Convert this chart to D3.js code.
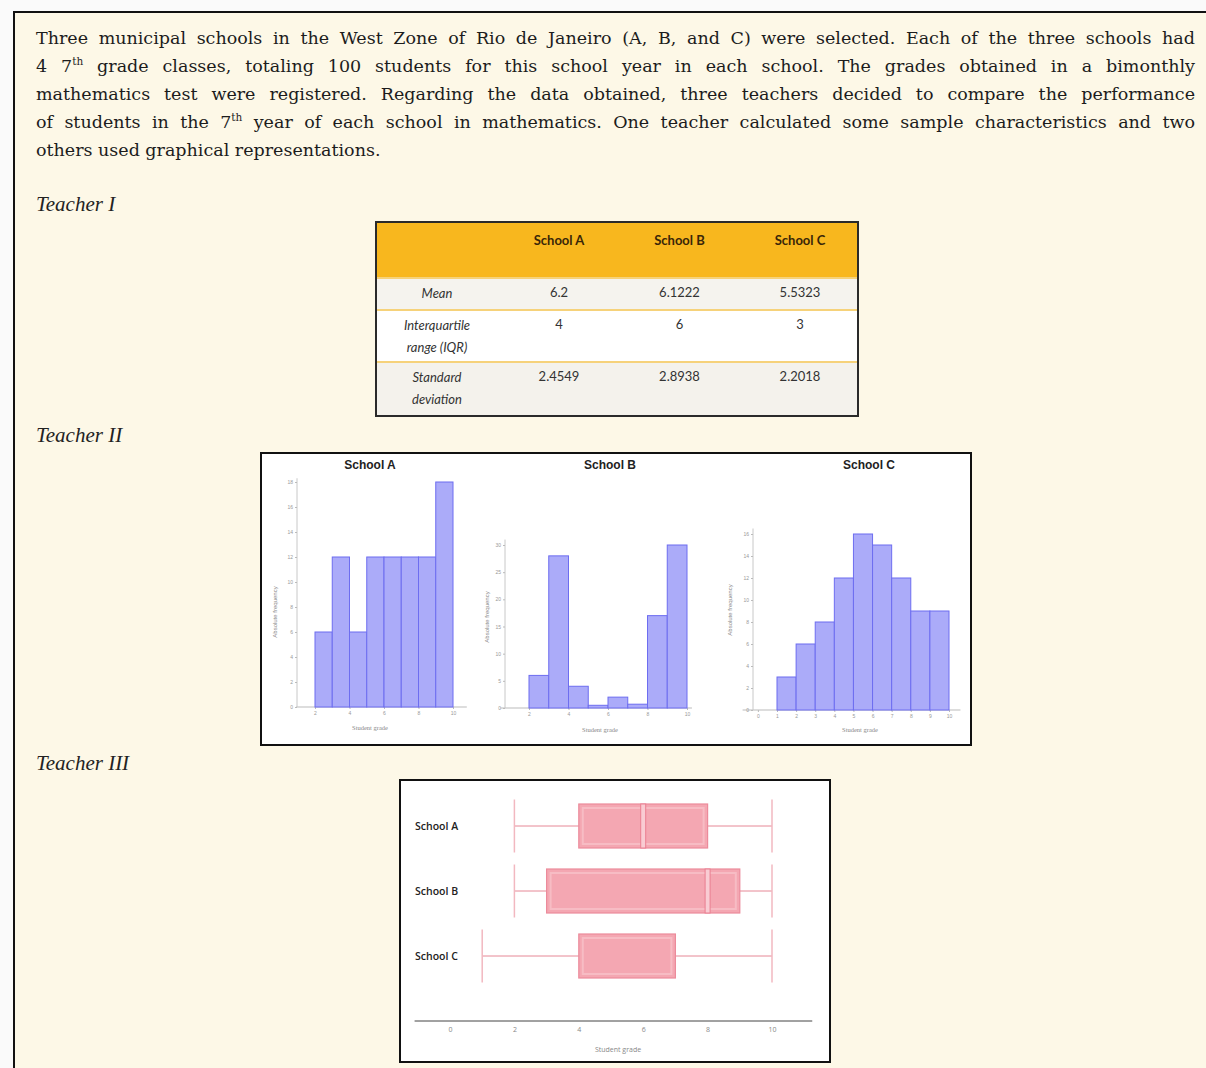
<!DOCTYPE html>
<html>
<head>
<meta charset="utf-8">
<script src="https://cdn.jsdelivr.net/npm/d3@7"></script>
<style>
  body { margin: 0; background: #fff; }
  svg { display: block; }
</style>
</head>
<body>
<div id="chart"></div>
<script>
var width = 1206
var height = 1068

// paragraph, one entry per printed line (^ marks a superscript)
var paragraphLines = [
  'Three municipal schools in the West Zone of Rio de Janeiro (A, B, and C) were selected. Each of the three schools had',
  '4 7^th grade classes, totaling 100 students for this school year in each school. The grades obtained in a bimonthly',
  'mathematics test were registered. Regarding the data obtained, three teachers decided to compare the performance',
  'of students in the 7^th year of each school in mathematics. One teacher calculated some sample characteristics and two',
  'others used graphical representations.'
]
var teacherLabels = ['Teacher I', 'Teacher II', 'Teacher III']

// Teacher I table
var schools = ['School A', 'School B', 'School C']
var rowLabels = [['Mean'], ['Interquartile', 'range (IQR)'], ['Standard', 'deviation']]
var meanValues = ['6.2', '6.1222', '5.5323']
var iqrValues = ['4', '6', '3']
var sdValues = ['2.4549', '2.8938', '2.2018']

// Teacher II histograms
var edgesA = [2, 3, 4, 5, 6, 7, 8, 9, 10]
var countsA = [6, 12, 6, 12, 12, 12, 12, 18]
var edgesB = [2, 3, 4, 5, 6, 7, 8, 9, 10]
var countsB = [6, 28, 4, 0.5, 2, 0.7, 17, 30]
var edgesC = [1, 2, 3, 4, 5, 6, 7, 8, 9, 10]
var countsC = [3, 6, 8, 12, 16, 15, 12, 9, 9]
var yTicksA = [0, 2, 4, 6, 8, 10, 12, 14, 16, 18]
var yTicksB = [0, 5, 10, 15, 20, 25, 30]
var yTicksC = [0, 2, 4, 6, 8, 10, 12, 14, 16]
var xTicksA = [2, 4, 6, 8, 10]
var xTicksB = [2, 4, 6, 8, 10]
var xTicksC = [0, 1, 2, 3, 4, 5, 6, 7, 8, 9, 10]

// Teacher III box plots
var boxMin = [2, 2, 1]
var boxQ1 = [4, 3, 4]
var boxMedian = [6, 8, 4]
var boxQ3 = [8, 9, 7]
var boxMax = [10, 10, 10]
var boxTicks = [0, 2, 4, 6, 8, 10]

var svg = d3
  .select('#chart')
  .append('svg')
  .attr('width', width)
  .attr('height', height)

// page background with the frame
svg.append('rect').attr('width', width).attr('height', height).attr('fill', '#fafafa')
svg
  .append('rect')
  .attr('x', 14)
  .attr('y', 12)
  .attr('width', width)
  .attr('height', height)
  .attr('fill', '#fdf8e7')
  .attr('stroke', '#111')
  .attr('stroke-width', 2)

// ---- justified paragraph
var textLeft = 36
var textRight = 1195
var para = svg
  .append('g')
  .attr('font-family', 'DejaVu Serif')
  .attr('font-size', 17.5)
  .attr('fill', '#1c1c1c')

paragraphLines.forEach(function(line, li) {
  var y = 44 + li * 28
  var words = line.split(' ')
  var nodes = words.map(function(w) {
    var t = para.append('text').attr('y', y)
    var parts = w.split('^')
    t.append('tspan').text(parts[0])
    if (parts[1]) {
      t.append('tspan').attr('dy', -7).attr('font-size', 10.5).text(parts[1])
    }
    return t
  })
  var widths = nodes.map(n => n.node().getComputedTextLength())
  var last = li === paragraphLines.length - 1
  var gap = last ? 5.5 : (textRight - textLeft - d3.sum(widths)) / (words.length - 1)
  var x = textLeft
  nodes.forEach(function(n, i) {
    n.attr('x', x)
    x += widths[i] + gap
  })
})

svg
  .selectAll('.teacher')
  .data(teacherLabels)
  .enter()
  .append('text')
  .attr('class', 'teacher')
  .attr('x', 36)
  .attr('y', (d, i) => [211, 442, 770][i])
  .attr('font-family', 'Liberation Serif')
  .attr('font-style', 'italic')
  .attr('font-size', 21)
  .attr('fill', '#222')
  .text(d => d)

// ---- Teacher I: table
var table = svg.append('g').attr('font-family', 'Lato')
var colX = d3.scalePoint().domain(schools).range([559, 800])
var tableRows = [meanValues, iqrValues, sdValues]
var rowTop = [278, 310, 362, 416]
var rowFill = ['#f5f3ee', '#ffffff', '#f4f2ec']

table
  .append('rect')
  .attr('x', 376)
  .attr('y', 222)
  .attr('width', 482)
  .attr('height', 56)
  .attr('fill', '#f8b71e')

table
  .selectAll('.row-bg')
  .data(tableRows)
  .enter()
  .append('rect')
  .attr('x', 376)
  .attr('y', (d, i) => rowTop[i])
  .attr('width', 482)
  .attr('height', (d, i) => rowTop[i + 1] - rowTop[i])
  .attr('fill', (d, i) => rowFill[i])

table
  .selectAll('.row-sep')
  .data(rowTop.slice(0, 3))
  .enter()
  .append('line')
  .attr('x1', 376)
  .attr('x2', 858)
  .attr('y1', d => d)
  .attr('y2', d => d)
  .attr('stroke', '#f6d27a')
  .attr('stroke-width', 2)

table
  .selectAll('.col-head')
  .data(schools)
  .enter()
  .append('text')
  .attr('x', d => colX(d))
  .attr('y', 245)
  .attr('text-anchor', 'middle')
  .attr('font-weight', 700)
  .attr('font-size', 13)
  .attr('fill', '#3a2608')
  .text(d => d)

rowLabels.forEach(function(lines, r) {
  lines.forEach(function(l, k) {
    table
      .append('text')
      .attr('x', 437)
      .attr('y', rowTop[r] + 20 + k * 22)
      .attr('text-anchor', 'middle')
      .attr('font-style', 'italic')
      .attr('font-size', 13)
      .attr('fill', '#333')
      .text(l)
  })
  table
    .selectAll('.val' + r)
    .data(tableRows[r])
    .enter()
    .append('text')
    .attr('x', (d, i) => colX(schools[i]))
    .attr('y', rowTop[r] + 19)
    .attr('text-anchor', 'middle')
    .attr('font-size', 13)
    .attr('fill', '#333')
    .text(d => d)
})

table
  .append('rect')
  .attr('x', 376)
  .attr('y', 222)
  .attr('width', 482)
  .attr('height', 194)
  .attr('fill', 'none')
  .attr('stroke', '#2a2a2a')
  .attr('stroke-width', 2)

// ---- Teacher II: histograms
svg
  .append('rect')
  .attr('x', 261)
  .attr('y', 453)
  .attr('width', 710)
  .attr('height', 292)
  .attr('fill', '#fff')
  .attr('stroke', '#111')
  .attr('stroke-width', 2)

var panels = [
  { title: 'School A', edges: edgesA, counts: countsA, yTicks: yTicksA, xTicks: xTicksA,
    xr: [315, 453], yr: [707, 482], titleX: 370, axisX: [0.9, 10.8], axisY: 18.3,
    yAxisAt: 297, yLabelX: 277, yLabelY: 612, xLabelX: 370, xLabelY: 730 },
  { title: 'School B', edges: edgesB, counts: countsB, yTicks: yTicksB, xTicks: xTicksB,
    xr: [529, 687], yr: [708, 545], titleX: 610, axisX: [0.55, 10.25], axisY: 31,
    yAxisAt: 505, yLabelX: 489, yLabelY: 617, xLabelX: 600, xLabelY: 732 },
  { title: 'School C', edges: edgesC, counts: countsC, yTicks: yTicksC, xTicks: xTicksC,
    xr: [777, 949], yr: [710, 534], titleX: 869, axisX: [-0.8, 10.6], axisY: 16.5,
    yAxisAt: 753, yLabelX: 732, yLabelY: 610, xLabelX: 860, xLabelY: 732 }
]

panels.forEach(function(p) {
  var g = svg.append('g')
  var x = d3.scaleLinear().domain([p.edges[0], p.edges[p.edges.length - 1]]).range(p.xr)
  var y = d3.scaleLinear().domain([0, d3.max(p.yTicks)]).range(p.yr)
  var x0 = x.invert(p.yAxisAt)

  g.append('text')
    .attr('x', p.titleX)
    .attr('y', 469)
    .attr('text-anchor', 'middle')
    .attr('font-family', 'Liberation Sans')
    .attr('font-weight', 700)
    .attr('font-size', 12)
    .attr('fill', '#222')
    .text(p.title)

  // axes lines
  g.append('line')
    .attr('x1', x(p.axisX[0]))
    .attr('x2', x(p.axisX[1]))
    .attr('y1', y(0))
    .attr('y2', y(0))
    .attr('stroke', '#bbb')
  g.append('line')
    .attr('x1', x(x0))
    .attr('x2', x(x0))
    .attr('y1', y(0))
    .attr('y2', y(p.axisY))
    .attr('stroke', '#c8c8c8')

  var yAxis = g
    .append('g')
    .attr('transform', 'translate(' + x(x0) + ',0)')
    .call(d3.axisLeft(y).tickValues(p.yTicks).tickSize(2).tickPadding(2))
  var xAxis = g
    .append('g')
    .attr('transform', 'translate(0,' + y(0) + ')')
    .call(d3.axisBottom(x).tickValues(p.xTicks).tickSize(2).tickPadding(2))
  ;[yAxis, xAxis].forEach(function(a) {
    a.select('.domain').remove()
    a.selectAll('line').attr('stroke', '#bbb')
    a.selectAll('text').attr('font-size', 5).attr('fill', '#999').attr('font-family', 'Liberation Sans')
  })

  g.selectAll('.bar')
    .data(p.counts)
    .enter()
    .append('rect')
    .attr('x', (d, i) => x(p.edges[i]))
    .attr('width', (d, i) => x(p.edges[i + 1]) - x(p.edges[i]))
    .attr('y', d => y(d))
    .attr('height', d => y(0) - y(d))
    .attr('fill', '#ababf9')
    .attr('stroke', '#6d6df0')
    .attr('stroke-width', 1)

  g.append('text')
    .attr('transform', 'translate(' + p.yLabelX + ',' + p.yLabelY + ') rotate(-90)')
    .attr('text-anchor', 'middle')
    .attr('font-family', 'Liberation Sans')
    .attr('font-size', 6)
    .attr('fill', '#888')
    .text('Absolute frequency')

  g.append('text')
    .attr('x', p.xLabelX)
    .attr('y', p.xLabelY)
    .attr('text-anchor', 'middle')
    .attr('font-family', 'Liberation Serif')
    .attr('font-size', 6.5)
    .attr('fill', '#888')
    .text('Student grade')
})

// ---- Teacher III: box plots
svg
  .append('rect')
  .attr('x', 400)
  .attr('y', 780)
  .attr('width', 430)
  .attr('height', 282)
  .attr('fill', '#fff')
  .attr('stroke', '#111')
  .attr('stroke-width', 2)

var bx = d3.scaleLinear().domain([0, 10]).range([450, 772])
var by = d3.scalePoint().domain(schools).range([826, 956])
var boxH = 44
var capH = 53
var boxes = svg.append('g')

boxes
  .append('line')
  .attr('x1', bx(-1.1))
  .attr('x2', bx(11.25))
  .attr('y1', 1021)
  .attr('y2', 1021)
  .attr('stroke', '#444')
  .attr('stroke-width', 1)

var bAxis = boxes
  .append('g')
  .attr('transform', 'translate(0,1021)')
  .call(d3.axisBottom(bx).tickValues(boxTicks).tickSize(0).tickPadding(6))
bAxis.select('.domain').remove()
bAxis.selectAll('text').attr('font-size', 7).attr('fill', '#888').attr('font-family', 'Open Sans')

boxes
  .append('text')
  .attr('x', 618)
  .attr('y', 1052)
  .attr('text-anchor', 'middle')
  .attr('font-family', 'Open Sans')
  .attr('font-size', 7)
  .attr('fill', '#888')
  .text('Student grade')

schools.forEach(function(s, i) {
  var cy = by(s)
  boxes
    .selectAll('.whisk' + i)
    .data([[boxMin[i], boxQ1[i]], [boxQ3[i], boxMax[i]]])
    .enter()
    .append('line')
    .attr('x1', d => bx(d[0]))
    .attr('x2', d => bx(d[1]))
    .attr('y1', cy)
    .attr('y2', cy)
    .attr('stroke', '#e68896')
    .attr('stroke-width', 1)

  boxes
    .selectAll('.cap' + i)
    .data([boxMin[i], boxMax[i]])
    .enter()
    .append('line')
    .attr('x1', d => bx(d))
    .attr('x2', d => bx(d))
    .attr('y1', cy - capH / 2)
    .attr('y2', cy + capH / 2)
    .attr('stroke', '#f2b8c0')
    .attr('stroke-width', 1.5)

  boxes
    .append('rect')
    .attr('x', bx(boxQ1[i]))
    .attr('y', cy - boxH / 2)
    .attr('width', bx(boxQ3[i]) - bx(boxQ1[i]))
    .attr('height', boxH)
    .attr('fill', '#f4a7b2')
    .attr('stroke', '#ec8b9b')
    .attr('stroke-width', 1.2)
  boxes
    .append('rect')
    .attr('x', bx(boxQ1[i]) + 4)
    .attr('y', cy - boxH / 2 + 4)
    .attr('width', bx(boxQ3[i]) - bx(boxQ1[i]) - 8)
    .attr('height', boxH - 8)
    .attr('fill', 'none')
    .attr('stroke', '#f7bcc4')
    .attr('stroke-width', 2)

  if (boxMedian[i] > boxQ1[i]) {
    boxes
      .append('rect')
      .attr('x', bx(boxMedian[i]) - 2.5)
      .attr('y', cy - boxH / 2)
      .attr('width', 5)
      .attr('height', boxH)
      .attr('fill', '#f9ccd3')
      .attr('stroke', '#ea7f91')
      .attr('stroke-width', 1)
  }

  boxes
    .append('text')
    .attr('x', 415)
    .attr('y', cy + 4)
    .attr('font-family', 'Open Sans')
    .attr('font-weight', 600)
    .attr('font-size', 10.5)
    .attr('fill', '#222')
    .text(s)
})
</script>
</body>
</html>
